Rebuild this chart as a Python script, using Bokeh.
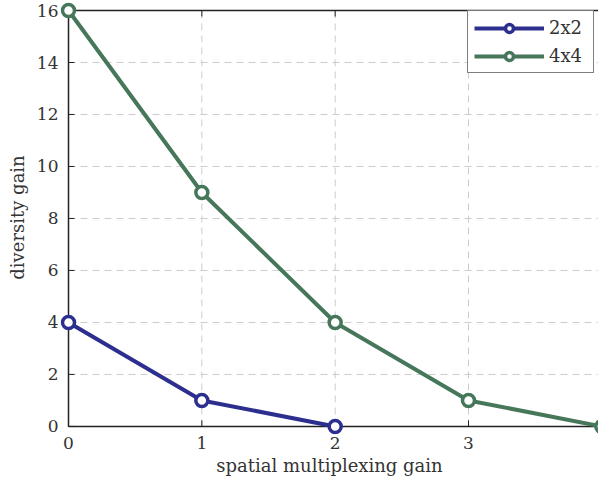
import math
from bokeh.plotting import figure
from bokeh.models import Range1d, FixedTicker, Legend, LegendItem
from bokeh.embed import file_html
from bokeh.resources import INLINE

x_2x2 = [0, 1, 2]
y_2x2 = [4, 1, 0]
x_4x4 = [0, 1, 2, 3, 4]
y_4x4 = [16, 9, 4, 1, 0]
x_ticks = [0, 1, 2, 3, 4]
y_ticks = [0, 2, 4, 6, 8, 10, 12, 14, 16]
x_min, x_max = 0, 4
y_min, y_max = 0, 16

FONT = "DejaVu Serif"
FS = "17px"
FS_LABEL = "18px"
BLUE = "#2d2f8e"
GREEN = "#46775a"
AXC = "#222222"
TXT = "#333333"

# ranges padded a little so the markers at the box edges are not cut
p = figure(width=598, height=484, output_backend="svg", toolbar_location=None,
           x_range=Range1d(-0.06, 3.975), y_range=Range1d(-0.31, 16.385),
           min_border_left=60, min_border_right=0, min_border_top=0, min_border_bottom=50)
p.outline_line_color = None
p.xgrid.visible = False
p.ygrid.visible = False

for ax in (p.xaxis[0], p.yaxis[0]):
    ax.axis_line_color = None
    ax.major_tick_line_color = None
    ax.minor_tick_line_color = None
    ax.major_tick_in = 0
    ax.major_tick_out = 0
    ax.major_label_text_font = FONT
    ax.major_label_text_font_size = FS
    ax.major_label_text_color = TXT
    ax.axis_label_text_font = FONT
    ax.axis_label_text_font_size = FS_LABEL
    ax.axis_label_text_font_style = "normal"
    ax.axis_label_text_color = TXT
    ax.major_label_standoff = 2

p.xaxis.ticker = FixedTicker(ticks=x_ticks)
p.yaxis.ticker = FixedTicker(ticks=y_ticks)
p.xaxis.axis_label = "spatial multiplexing gain"
p.yaxis.axis_label = "diversity gain"
p.xaxis.axis_label_standoff = 3
p.yaxis.axis_label_standoff = 6

# dashed grid inside the box
p.segment(x0=x_min, x1=x_max, y0=y_ticks, y1=y_ticks,
          line_color="#cccccc", line_dash="7 5", line_width=1)
p.segment(x0=x_ticks, x1=x_ticks, y0=y_min, y1=y_max,
          line_color="#cccccc", line_dash="7 5", line_width=1)

# box lines
p.segment(x0=[x_min, x_min, x_min], y0=[y_min, y_max, y_min],
          x1=[x_max, x_max, x_min], y1=[y_min, y_max, y_max],
          line_color=AXC, line_width=1.5)

# inward tick marks
p.ray(x=x_min, y=y_ticks, length=6, length_units="screen", angle=0,
      line_color=AXC, line_width=1)
p.ray(x=x_ticks, y=y_min, length=6, length_units="screen", angle=math.pi / 2,
      line_color=AXC, line_width=1)
p.ray(x=x_ticks, y=y_max, length=6, length_units="screen", angle=-math.pi / 2,
      line_color=AXC, line_width=1)

l1 = p.line(x_2x2, y_2x2, line_color=BLUE, line_width=4)
s1 = p.scatter(x_2x2, y_2x2, size=12, line_color=BLUE, line_width=3.5, fill_color="white")
l2 = p.line(x_4x4, y_4x4, line_color=GREEN, line_width=4)
s2 = p.scatter(x_4x4, y_4x4, size=12, line_color=GREEN, line_width=3.5, fill_color="white")

legend = Legend(items=[LegendItem(label="2x2", renderers=[l1, s1]),
                       LegendItem(label="4x4", renderers=[l2, s2])],
                location=(407, 361))
legend.label_text_font = FONT
legend.label_text_font_size = FS_LABEL
legend.label_text_color = TXT
legend.border_line_color = "black"
legend.border_line_width = 1.5
legend.glyph_width = 70
legend.glyph_height = 20
legend.label_height = 20
legend.label_width = 38
legend.spacing = 7
legend.padding = 6
legend.margin = 0
legend.label_standoff = 5
p.add_layout(legend)

open("out.html", "w").write(file_html(p, INLINE))
